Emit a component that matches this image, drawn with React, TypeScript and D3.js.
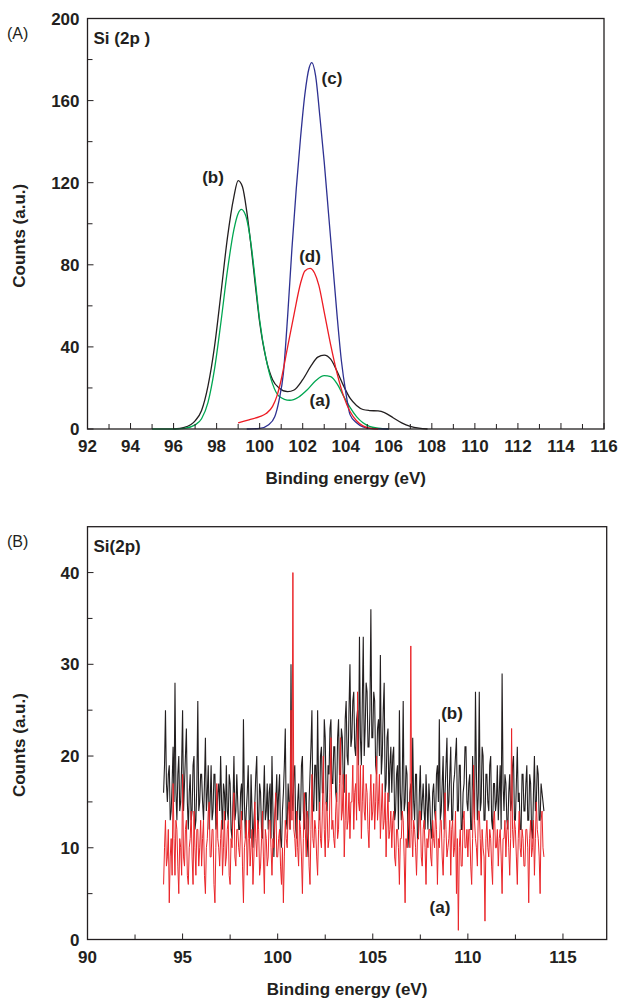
import React from 'react';
import * as d3 from 'd3';

// ---- Panel (A): Si 2p envelopes, [binding energy (eV), counts] ----
const curveA_a: [number, number][] = [
  [95.0, 0], [96.0, 0], [96.5, 0.3], [97.0, 2], [97.3, 5], [97.6, 13], [97.9, 29], [98.2, 52],
  [98.5, 77], [98.8, 97], [99.0, 105], [99.15, 107], [99.35, 104], [99.6, 90], [99.8, 72],
  [100.0, 53], [100.3, 34], [100.6, 22], [100.9, 16], [101.4, 14], [101.8, 15.5], [102.2, 19],
  [102.6, 23.5], [103.0, 26], [103.3, 25.5], [103.6, 22], [103.9, 16], [104.2, 10.5],
  [104.5, 6], [104.8, 3], [105.1, 1.3], [105.5, 0.4], [106.0, 0],
];
const curveA_b: [number, number][] = [
  [96.0, 0], [96.5, 0.8], [97.0, 4], [97.3, 9], [97.6, 21], [97.9, 40], [98.2, 66], [98.5, 93],
  [98.8, 113], [99.0, 121], [99.2, 118], [99.4, 106], [99.6, 89], [99.8, 70], [100.0, 52],
  [100.3, 34], [100.6, 24], [100.9, 20], [101.3, 18.2], [101.6, 19], [102.0, 24], [102.4, 31],
  [102.7, 35], [103.0, 36], [103.3, 34], [103.6, 28], [103.9, 21], [104.2, 15], [104.5, 11.5],
  [104.8, 9.5], [105.1, 9], [105.5, 8.8], [105.8, 8], [106.2, 5.5], [106.6, 3], [107.0, 1.3],
  [107.4, 0.4], [107.8, 0],
];
const curveA_c: [number, number][] = [
  [99.4, 0], [100.0, 0.3], [100.4, 2], [100.7, 6], [100.9, 14], [101.1, 27], [101.3, 55],
  [101.5, 88], [101.7, 117], [101.9, 142], [102.1, 163], [102.3, 176], [102.42, 178.5],
  [102.6, 172], [102.8, 152], [103.0, 130], [103.2, 105], [103.4, 80], [103.6, 55], [103.8, 33],
  [104.0, 18], [104.2, 7], [104.5, 3], [104.8, 1], [105.2, 0.2], [106.0, 0],
];
const curveA_d: [number, number][] = [
  [99.0, 3], [99.5, 4.5], [100.0, 6], [100.3, 7.5], [100.6, 11], [100.8, 16], [101.0, 24],
  [101.3, 40], [101.6, 56], [101.9, 71], [102.1, 77], [102.34, 78.3], [102.55, 76], [102.75, 70],
  [103.0, 57], [103.3, 41], [103.6, 27], [103.9, 16], [104.2, 8.5], [104.5, 4], [104.8, 1.5],
  [105.1, 0.4], [105.5, 0],
];

// ---- Panel (B): raw Si 2p counts, 94.0 to 114.0 eV every 0.05 eV (one row per eV) ----
const rawStart = 94.0;
const rawStep = 0.05;
const countsB_b = [
  16, 19, 25, 17, 15, 18, 19, 13, 14, 17, 21, 15, 28, 16, 13, 18, 20, 14, 15, 19,
  25, 14, 17, 20, 23, 15, 12, 16, 18, 13, 14, 19, 20, 12, 13, 17, 26, 14, 15, 18,
  18, 15, 13, 17, 22, 14, 16, 19, 12, 15, 19, 13, 14, 18, 18, 12, 13, 16, 17, 14,
  20, 15, 12, 17, 16, 13, 19, 14, 13, 18, 17, 12, 11, 15, 20, 13, 14, 18, 15, 12,
  12, 16, 17, 13, 24, 15, 11, 14, 16, 19, 13, 11, 18, 14, 10, 13, 15, 18, 20, 12,
  13, 17, 16, 12, 11, 15, 19, 13, 14, 17, 12, 16, 17, 11, 20, 14, 9, 13, 15, 18,
  13, 16, 18, 11, 10, 14, 16, 19, 23, 13, 12, 17, 15, 12, 30, 16, 14, 18, 19, 12,
  11, 15, 17, 13, 13, 19, 20, 14, 12, 16, 16, 11, 9, 15, 18, 21, 25, 14, 14, 19,
  19, 14, 25, 17, 13, 20, 21, 16, 16, 24, 22, 15, 14, 19, 18, 23, 24, 17, 17, 21,
  21, 16, 15, 22, 24, 18, 18, 23, 22, 17, 16, 24, 26, 20, 19, 25, 30, 21, 22, 26,
  27, 21, 20, 24, 25, 19, 33, 22, 19, 26, 33, 20, 23, 28, 27, 21, 21, 25, 36, 22,
  22, 27, 26, 19, 18, 23, 24, 20, 31, 18, 20, 25, 28, 16, 17, 22, 23, 15, 19, 21,
  16, 20, 21, 13, 14, 18, 19, 12, 25, 16, 13, 17, 26, 14, 15, 19, 18, 10, 12, 16,
  17, 13, 22, 15, 13, 18, 18, 11, 11, 16, 19, 13, 15, 17, 14, 12, 18, 15, 12, 17,
  15, 12, 11, 16, 17, 14, 13, 18, 19, 15, 24, 13, 14, 17, 20, 12, 16, 19, 22, 14,
  15, 18, 21, 13, 13, 17, 18, 20, 22, 14, 14, 19, 19, 12, 12, 16, 17, 21, 21, 15,
  14, 17, 18, 12, 12, 20, 16, 13, 27, 18, 13, 16, 27, 14, 15, 21, 20, 13, 13, 18,
  18, 15, 14, 19, 20, 13, 12, 17, 17, 14, 15, 19, 13, 16, 19, 12, 29, 17, 14, 18,
  17, 13, 12, 16, 18, 14, 15, 19, 20, 13, 13, 17, 21, 15, 16, 12, 12, 18, 18, 14,
  14, 17, 19, 13, 13, 18, 17, 12, 11, 16, 20, 14, 15, 19, 18, 13, 13, 17, 16, 15,
  14,
];
const countsB_a = [
  6, 10, 13, 8, 9, 12, 4, 9, 11, 7, 17, 11, 7, 13, 12, 8, 5, 11, 10, 7,
  18, 9, 8, 12, 13, 7, 6, 10, 11, 14, 9, 6, 14, 10, 7, 12, 12, 8, 10, 13,
  8, 11, 13, 7, 5, 10, 11, 14, 15, 9, 9, 12, 12, 6, 4, 10, 17, 11, 10, 8,
  11, 13, 7, 10, 14, 8, 9, 12, 13, 7, 6, 11, 10, 14, 16, 9, 8, 12, 12, 10,
  9, 12, 14, 8, 4, 10, 11, 13, 7, 11, 13, 8, 10, 12, 6, 9, 15, 11, 9, 13,
  12, 7, 8, 11, 14, 9, 5, 12, 11, 8, 9, 13, 13, 10, 7, 11, 10, 14, 16, 9,
  9, 11, 12, 8, 6, 10, 4, 9, 13, 11, 10, 14, 15, 12, 25, 13, 40, 12, 11, 9,
  14, 10, 8, 13, 12, 9, 5, 11, 16, 12, 9, 14, 13, 8, 6, 12, 18, 11, 10, 13,
  12, 9, 7, 12, 15, 11, 10, 14, 20, 12, 9, 15, 14, 10, 11, 16, 22, 12, 13, 11,
  10, 14, 16, 11, 12, 17, 22, 13, 14, 18, 9, 13, 18, 12, 13, 16, 11, 15, 15, 19,
  12, 16, 17, 13, 27, 15, 14, 19, 11, 15, 19, 14, 13, 17, 16, 12, 10, 15, 18, 13,
  14, 17, 12, 15, 20, 13, 15, 18, 11, 14, 17, 12, 13, 16, 9, 13, 16, 11, 12, 14,
  10, 13, 14, 9, 8, 12, 12, 10, 6, 11, 11, 14, 13, 9, 4, 11, 10, 13, 15, 10,
  32, 12, 9, 13, 12, 10, 7, 11, 11, 14, 14, 9, 8, 12, 13, 10, 6, 11, 10, 12,
  12, 9, 8, 13, 11, 10, 14, 12, 6, 11, 10, 13, 13, 9, 7, 11, 16, 12, 9, 10,
  11, 13, 7, 12, 13, 9, 10, 14, 5, 11, 1, 10, 12, 8, 8, 13, 14, 10, 10, 12,
  9, 12, 12, 8, 6, 11, 19, 13, 11, 10, 8, 14, 14, 11, 7, 12, 10, 9, 2, 11,
  13, 10, 9, 12, 11, 8, 6, 13, 14, 10, 10, 12, 8, 11, 12, 9, 5, 11, 11, 13,
  9, 12, 13, 10, 7, 11, 23, 12, 10, 13, 12, 9, 6, 11, 14, 10, 9, 12, 11, 8,
  8, 12, 12, 10, 4, 11, 13, 9, 10, 13, 7, 11, 15, 12, 11, 9, 5, 13, 14, 10,
  9,
];

const xTicksA = d3.range(92, 117, 2);
const xMinorA = d3.range(93, 116, 2);
const yTicksA = [0, 40, 80, 120, 160, 200];
const yMinorA = [20, 60, 100, 140, 180];
const xTicksB = [90, 95, 100, 105, 110, 115];
const xMinorB = [92.5, 97.5, 102.5, 107.5, 112.5];
const yTicksB = [0, 10, 20, 30, 40];
const yMinorB = [5, 15, 25, 35];

const FONT = '"Liberation Sans", Arial, Helvetica, sans-serif';
const INK = '#231f20';

type PanelProps = {
  x: d3.ScaleLinear<number, number>;
  y: d3.ScaleLinear<number, number>;
  xTicks: number[];
  xMinor: number[];
  yTicks: number[];
  yMinor: number[];
  tag: string;
  title: string;
  children?: React.ReactNode;
};

const Panel = ({ x, y, xTicks, xMinor, yTicks, yMinor, tag, title, children }: PanelProps) => {
  const [x0, x1] = x.range();
  const [y0, y1] = y.range();
  const midX = (x0 + x1) / 2;
  const midY = (y0 + y1) / 2;
  return (
    <g fontFamily={FONT} fill={INK}>
      {children}
      <rect x={x0} y={y1} width={x1 - x0} height={y0 - y1} fill="none" stroke={INK} strokeWidth={1.3} />
      {xTicks.map(t => (
        <g key={'xt' + t}>
          <line x1={x(t)} x2={x(t)} y1={y0} y2={y0 - 6} stroke={INK} strokeWidth={1} />
          <text x={x(t)} y={y0 + 23} textAnchor="middle" fontWeight="bold" fontSize={17}>{t}</text>
        </g>
      ))}
      {xMinor.map(t => (
        <line key={'xm' + t} x1={x(t)} x2={x(t)} y1={y0} y2={y0 - 5} stroke={INK} strokeWidth={1} />
      ))}
      {yTicks.map(t => (
        <g key={'yt' + t}>
          <line x1={x0} x2={x0 + 6} y1={y(t)} y2={y(t)} stroke={INK} strokeWidth={1} />
          <text x={x0 - 8} y={y(t) + 6} textAnchor="end" fontWeight="bold" fontSize={17}>{t}</text>
        </g>
      ))}
      {yMinor.map(t => (
        <line key={'ym' + t} x1={x0} x2={x0 + 5} y1={y(t)} y2={y(t)} stroke={INK} strokeWidth={1} />
      ))}
      <text x={midX} y={y0 + 55} textAnchor="middle" fontWeight="bold" fontSize={17}>Binding energy (eV)</text>
      <text transform={`translate(${x0 - 63},${midY + 12}) rotate(-90)`} textAnchor="middle" fontWeight="bold" fontSize={17}>
        Counts (a.u.)
      </text>
      <text x={7} y={y1 + 20} fontSize={16}>{tag}</text>
      <text x={x0 + 6} y={y1 + 25} fontWeight="bold" fontSize={17}>{title}</text>
    </g>
  );
};

export default function App() {
  const xA = d3.scaleLinear().domain([92, 116]).range([87.5, 604]);
  const yA = d3.scaleLinear().domain([0, 200]).range([429, 18.5]);
  const xB = d3.scaleLinear().domain([90, 117.3]).range([87.5, 606.7]);
  const yB = d3.scaleLinear().domain([0, 45]).range([939.5, 526.7]);

  const lineA = d3.line<[number, number]>()
    .x(d => xA(d[0]))
    .y(d => yA(d[1]))
    .curve(d3.curveMonotoneX);
  const lineB = d3.line<number>()
    .x((_, i) => xB(rawStart + i * rawStep))
    .y(d => yB(d));

  const label = (px: number, py: number, s: string) => (
    <text x={px} y={py} textAnchor="middle" fontWeight="bold" fontSize={17} fontFamily={FONT} fill={INK}>{s}</text>
  );

  return (
    <svg width={620} height={999} style={{ position: 'absolute', left: 0, top: 0, background: '#fff' }}>
      <Panel x={xA} y={yA} xTicks={xTicksA} xMinor={xMinorA} yTicks={yTicksA} yMinor={yMinorA} tag="(A)" title="Si (2p )">
        <path d={lineA(curveA_b) || ''} fill="none" stroke={INK} strokeWidth={1.3} />
        <path d={lineA(curveA_a) || ''} fill="none" stroke="#00a651" strokeWidth={1.3} />
        <path d={lineA(curveA_c) || ''} fill="none" stroke="#2e3192" strokeWidth={1.3} />
        <path d={lineA(curveA_d) || ''} fill="none" stroke="#ed1c24" strokeWidth={1.3} />
      </Panel>
      {label(213, 183, '(b)')}
      {label(332, 84, '(c)')}
      {label(310, 262, '(d)')}
      {label(320, 406, '(a)')}

      <Panel x={xB} y={yB} xTicks={xTicksB} xMinor={xMinorB} yTicks={yTicksB} yMinor={yMinorB} tag="(B)" title="Si(2p)">
        <path d={lineB(countsB_b) || ''} fill="none" stroke={INK} strokeWidth={1.1} />
        <path d={lineB(countsB_a) || ''} fill="none" stroke="#ea2529" strokeWidth={1} />
      </Panel>
      {label(452, 719, '(b)')}
      {label(440, 913, '(a)')}
    </svg>
  );
}
